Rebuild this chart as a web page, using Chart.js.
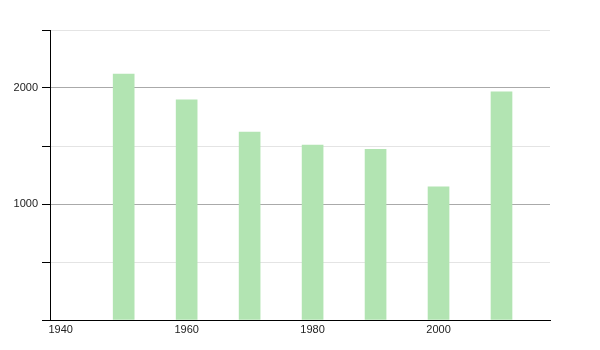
<!DOCTYPE html>
<html>
<head>
<meta charset="utf-8">
<script src="https://cdn.jsdelivr.net/npm/chart.js@4"></script>
<style>
  html, body { margin: 0; padding: 0; background: #fff; }
  #wrap { width: 600px; height: 350px; }
</style>
</head>
<body>
<div id="wrap"><canvas id="myChart"></canvas></div>
<script>
const years = [1950, 1960, 1970, 1980, 1990, 2000, 2010];
const population = [2121, 1897, 1621, 1509, 1471, 1147, 1966];
const xTickLabels = [1940, 1960, 1980, 2000];
const yTickLabels = [1000, 2000];

const ctx = document.getElementById("myChart");
const myChart = new Chart(ctx, {
  type: "bar",
  data: {
    datasets: [
      {
        data: years.map((y, i) => ({ x: y, y: population[i] })),
        backgroundColor: "#b2e4b2",
        borderWidth: 0,
        barThickness: 21,
      },
    ],
  },
  options: {
    responsive: true,
    maintainAspectRatio: false,
    animation: false,
    layout: { padding: { top: 30, right: 50, left: 0, bottom: 0 } },
    plugins: { legend: { display: false }, tooltip: { enabled: false } },
    scales: {
      x: {
        type: "linear",
        min: 1938.3,
        max: 2017.7,
        offset: false,
        grid: { display: false, drawTicks: false, offset: false },
        border: { color: "#000", width: 1 },
        afterBuildTicks: (scale) => {
          scale.ticks = xTickLabels.map((v) => ({ value: v }));
        },
        afterFit: (scale) => { scale.height = 30; },
        ticks: {
          color: "#222",
          font: { family: "Liberation Sans", size: 11 },
          padding: 3,
          maxRotation: 0,
          callback: (v) => String(v),
        },
      },
      y: {
        min: 0,
        max: 2500,
        afterFit: (scale) => { scale.width = 50; },
        border: { color: "#000", width: 1 },
        grid: {
          color: (c) => (yTickLabels.includes(c.tick.value) ? "#aaaaaa" : "#e4e4e4"),
          tickColor: "#000",
          tickLength: 8,
          drawOnChartArea: true,
        },
        ticks: {
          stepSize: 500,
          color: "#222",
          font: { family: "Liberation Sans", size: 11 },
          padding: 4,
          callback: (v) => (yTickLabels.includes(v) ? String(v) : ""),
        },
      },
    },
  },
});
</script>
</body>
</html>
